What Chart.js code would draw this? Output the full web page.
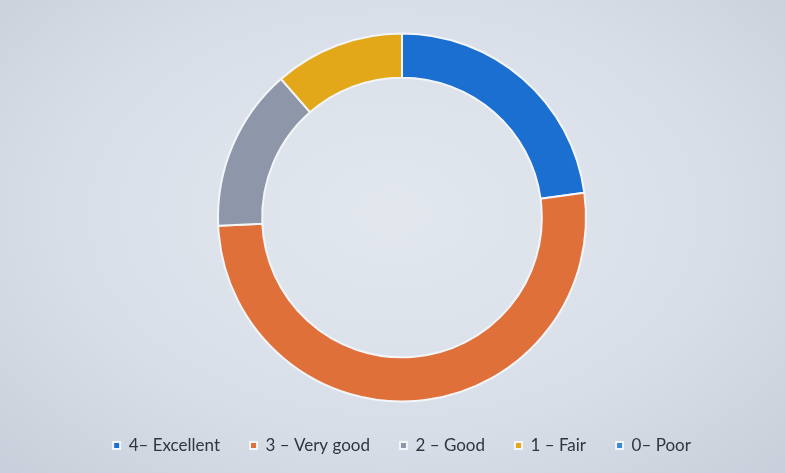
<!DOCTYPE html>
<html>
<head>
<meta charset="utf-8">
<script src="https://cdn.jsdelivr.net/npm/chart.js@4/dist/chart.umd.min.js"></script>
<style>
  html, body { margin: 0; padding: 0; }
  body {
    width: 785px; height: 473px; overflow: hidden;
    background: radial-gradient(ellipse at 50% 45%, #e3e8ef 0%, #d8dee8 60%, #c8cfda 100%);
  }
  #wrap { position: relative; width: 785px; height: 473px; }
</style>
</head>
<body>
<div id="wrap"><canvas id="donut"></canvas></div>
<script>
// Ratings, in legend order
const labels = ['4\u2013 Excellent', '3 \u2013 Very good', '2 \u2013 Good', '1 \u2013 Fair', '0\u2013 Poor'];
const counts = [8, 18, 5, 4, 0];
const colors = ['#1a6fd0', '#e0703a', '#8d97a9', '#e3a81a', '#3a8ad6'];

Chart.defaults.font.family = 'Lato';
Chart.defaults.color = '#30353e';

new Chart(document.getElementById('donut'), {
  type: 'doughnut',
  data: {
    labels: labels,
    datasets: [
      {
        data: counts,
        backgroundColor: colors,
        borderColor: '#f3f5f8',
        borderWidth: 2,
      },
    ],
  },
  options: {
    responsive: true,
    maintainAspectRatio: false,
    animation: false,
    radius: 184,
    cutout: '76%',
    layout: {
      padding: { top: 28, bottom: 9, left: 19, right: 0 },
    },
    plugins: {
      tooltip: { enabled: false },
      legend: {
        position: 'bottom',
        labels: {
          boxWidth: 7,
          boxHeight: 7,
          padding: 30,
          font: { size: 17 },
        },
      },
    },
  },
});
</script>
</body>
</html>
